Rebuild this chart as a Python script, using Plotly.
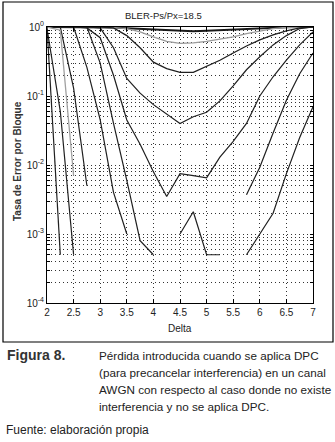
import plotly.graph_objects as go

# ---------------- data ----------------
delta = [2.0, 2.25, 2.5, 2.75, 3.0, 3.25, 3.5, 3.75, 4.0, 4.25, 4.5,
         4.75, 5.0, 5.25, 5.5, 5.75, 6.0, 6.25, 6.5, 6.75, 7.0]
N = None
bler_a = [1.0, 1.0, 1.0, 1.0, 0.99, 0.98, 0.96, 0.94, 0.92, 0.9, 0.88,
          0.87, 0.88, 0.9, 0.92, 0.94, 0.96, 0.98, 0.99, 1.0, 1.0]
bler_b = [1.0, 1.0, 1.0, 0.99, 0.99, 0.98, 0.95, 0.85, 0.72, 0.62, 0.58,
          0.59, 0.62, 0.66, 0.72, 0.8, 0.88, 0.95, 0.99, 1.0, 1.0]
bler_c = [1.0, 1.0, 1.0, 1.0, 1.0, 0.97, 0.75, 0.5, 0.31, 0.25, 0.22,
          0.22, 0.27, 0.33, 0.42, 0.53, 0.65, 0.77, 0.88, 0.97, 1.0]
bler_d = [1.0, 1.0, 1.0, 1.0, 0.97, 0.5, 0.18, 0.11, 0.075, 0.055, 0.04,
          0.05, 0.058, 0.085, 0.14, 0.24, 0.37, 0.55, 0.75, 0.95, 1.0]
bler_e = [1.0, 1.0, 1.0, 0.97, 0.7, 0.2, 0.045, 0.02, 0.008, 0.0035, 0.0075,
          0.007, 0.0065, 0.013, 0.022, 0.04, 0.1, 0.19, 0.33, 0.55, 0.85]
bler_f = [1.0, 1.0, 1.0, 1.0, 0.3, 0.04, 0.006, 0.0008, 0.0005, N, 0.001,
          0.0021, 0.0005, 0.0005, N, 0.0037, 0.0093, 0.029, 0.087, 0.21, 0.42]
bler_g = [1.0, 1.0, 1.0, 0.26, 0.045, 0.004, 0.001, N, N, N, N,
          N, N, N, N, 0.0005, 0.001, 0.002, 0.0075, 0.025, 0.07]
bler_h = [1.0, 1.0, 0.13, 0.005, N, N, N, N, N, N, N,
          N, N, N, N, N, N, N, N, N, N]
bler_i = [1.0, 0.9, 0.007, N, N, N, N, N, N, N, N,
          N, N, N, N, N, N, N, N, N, N]
bler_j = [0.95, 0.06, 0.0005, N, N, N, N, N, N, N, N,
          N, N, N, N, N, N, N, N, N, N]
bler_k = [1.0, 0.0005, N, N, N, N, N, N, N, N, N,
          N, N, N, N, N, N, N, N, N, N]

x_ticks = [2, 2.5, 3, 3.5, 4, 4.5, 5, 5.5, 6, 6.5, 7]
x_tick_labels = ["2", "2.5", "3", "3.5", "4", "4.5", "5", "5.5", "6", "6.5", "7"]
decades = [-4, -3, -2, -1, 0]
decade_labels = ["10<sup>-4</sup>", "10<sup>-3</sup>", "10<sup>-2</sup>",
                 "10<sup>-1</sup>", "10<sup>0</sup>"]

title_text = "BLER-Ps/Px=18.5"
x_title = "Delta"
y_title = "Tasa de Error por Bloque"
caption_head = "Figura 8."
caption_lines = ["Pérdida introducida cuando se aplica DPC",
                 "(para precancelar interferencia) en un canal",
                 "AWGN con respecto al caso donde no existe",
                 "interferencia y no se aplica DPC."]
source_text = "Fuente: elaboración propia"

# ---------------- figure ----------------
W, H = 335, 442
PL, PR, PT, PB = 47, 313, 27, 303


def pxx(x):
    return (x - PL) / (PR - PL)


def pyy(y):
    return (PB - y) / (PB - PT)


series = [
    (bler_a, "#1a1a1a", 2.0),
    (bler_b, "#9a9a9a", 1.3),
    (bler_c, "#202020", 1.3),
    (bler_d, "#202020", 1.2),
    (bler_e, "#202020", 1.2),
    (bler_f, "#202020", 1.2),
    (bler_g, "#202020", 1.2),
    (bler_h, "#202020", 1.2),
    (bler_i, "#a0a0a0", 1.3),
    (bler_j, "#202020", 1.2),
    (bler_k, "#202020", 1.2),
]

fig = go.Figure()
for vals, col, w in series:
    fig.add_trace(go.Scatter(x=delta, y=vals, mode="lines",
                             line=dict(color=col, width=w),
                             connectgaps=False, showlegend=False,
                             hoverinfo="skip"))

y_tickvals = []
y_ticktext = []
for i, d in enumerate(decades):
    y_tickvals.append(10 ** d)
    y_ticktext.append(decade_labels[i])
    if d < 0:
        for m in range(2, 10):
            y_tickvals.append(m * 10 ** d)
            y_ticktext.append(" ")

fam = "Liberation Sans, Arial, sans-serif"
grid_dash = "1px,3px"

fig.update_layout(
    width=W, height=H,
    margin=dict(l=PL, r=W - PR, t=PT, b=H - PB),
    paper_bgcolor="white", plot_bgcolor="white",
    font=dict(family=fam, size=10, color="#222"),
    xaxis=dict(range=[2, 7], tickvals=x_ticks, ticktext=x_tick_labels,
               showgrid=True, gridcolor="#333", griddash=grid_dash, gridwidth=1,
               showline=True, linecolor="black", linewidth=1, mirror="ticks",
               ticks="inside", ticklen=4, tickcolor="black",
               zeroline=False, tickfont=dict(size=10, color="#222")),
    yaxis=dict(type="log", range=[-4, 0], tickvals=y_tickvals, ticktext=y_ticktext,
               showgrid=True, gridcolor="#333", griddash=grid_dash, gridwidth=1,
               showline=True, linecolor="black", linewidth=1, mirror="ticks",
               ticks="inside", ticklen=3, tickcolor="black",
               zeroline=False, tickfont=dict(size=10, color="#222")),
)

ann = []
ann.append(dict(text=title_text, x=pxx(163), y=pyy(15), xref="paper", yref="paper",
                xanchor="center", yanchor="middle", showarrow=False,
                font=dict(size=9.5, color="#222")))
ann.append(dict(text="<b>" + y_title + "</b>", x=pxx(17), y=pyy(161), xref="paper",
                yref="paper", xanchor="center", yanchor="middle", showarrow=False,
                textangle=-90, font=dict(size=10, color="#333")))
ann.append(dict(text=x_title, x=pxx(180), y=pyy(328), xref="paper", yref="paper",
                xanchor="center", yanchor="middle", showarrow=False,
                font=dict(size=10, color="#222")))
ann.append(dict(text="<b>" + caption_head + "</b>", x=pxx(5), y=pyy(355), xref="paper",
                yref="paper", xanchor="left", yanchor="middle", showarrow=False,
                font=dict(size=14, color="#333")))
for i, line in enumerate(caption_lines):
    ann.append(dict(text=line, x=pxx(97), y=pyy(355 + i * 17.3), xref="paper",
                    yref="paper", xanchor="left", yanchor="middle", showarrow=False,
                    font=dict(size=11.7, color="#222")))
ann.append(dict(text=source_text, x=pxx(4), y=pyy(430), xref="paper", yref="paper",
                xanchor="left", yanchor="middle", showarrow=False,
                font=dict(size=12, color="#222")))
fig.update_layout(annotations=ann)

fig.add_shape(type="rect", xref="paper", yref="paper",
              x0=pxx(3), x1=pxx(333), y0=pyy(342), y1=pyy(2),
              line=dict(color="black", width=1.2), fillcolor="rgba(0,0,0,0)",
              layer="below")

fig.write_html("out.html", config={"displayModeBar": False, "staticPlot": True},
               post_script="document.body.style.margin='0';"
                           "document.body.style.overflow='hidden';")
